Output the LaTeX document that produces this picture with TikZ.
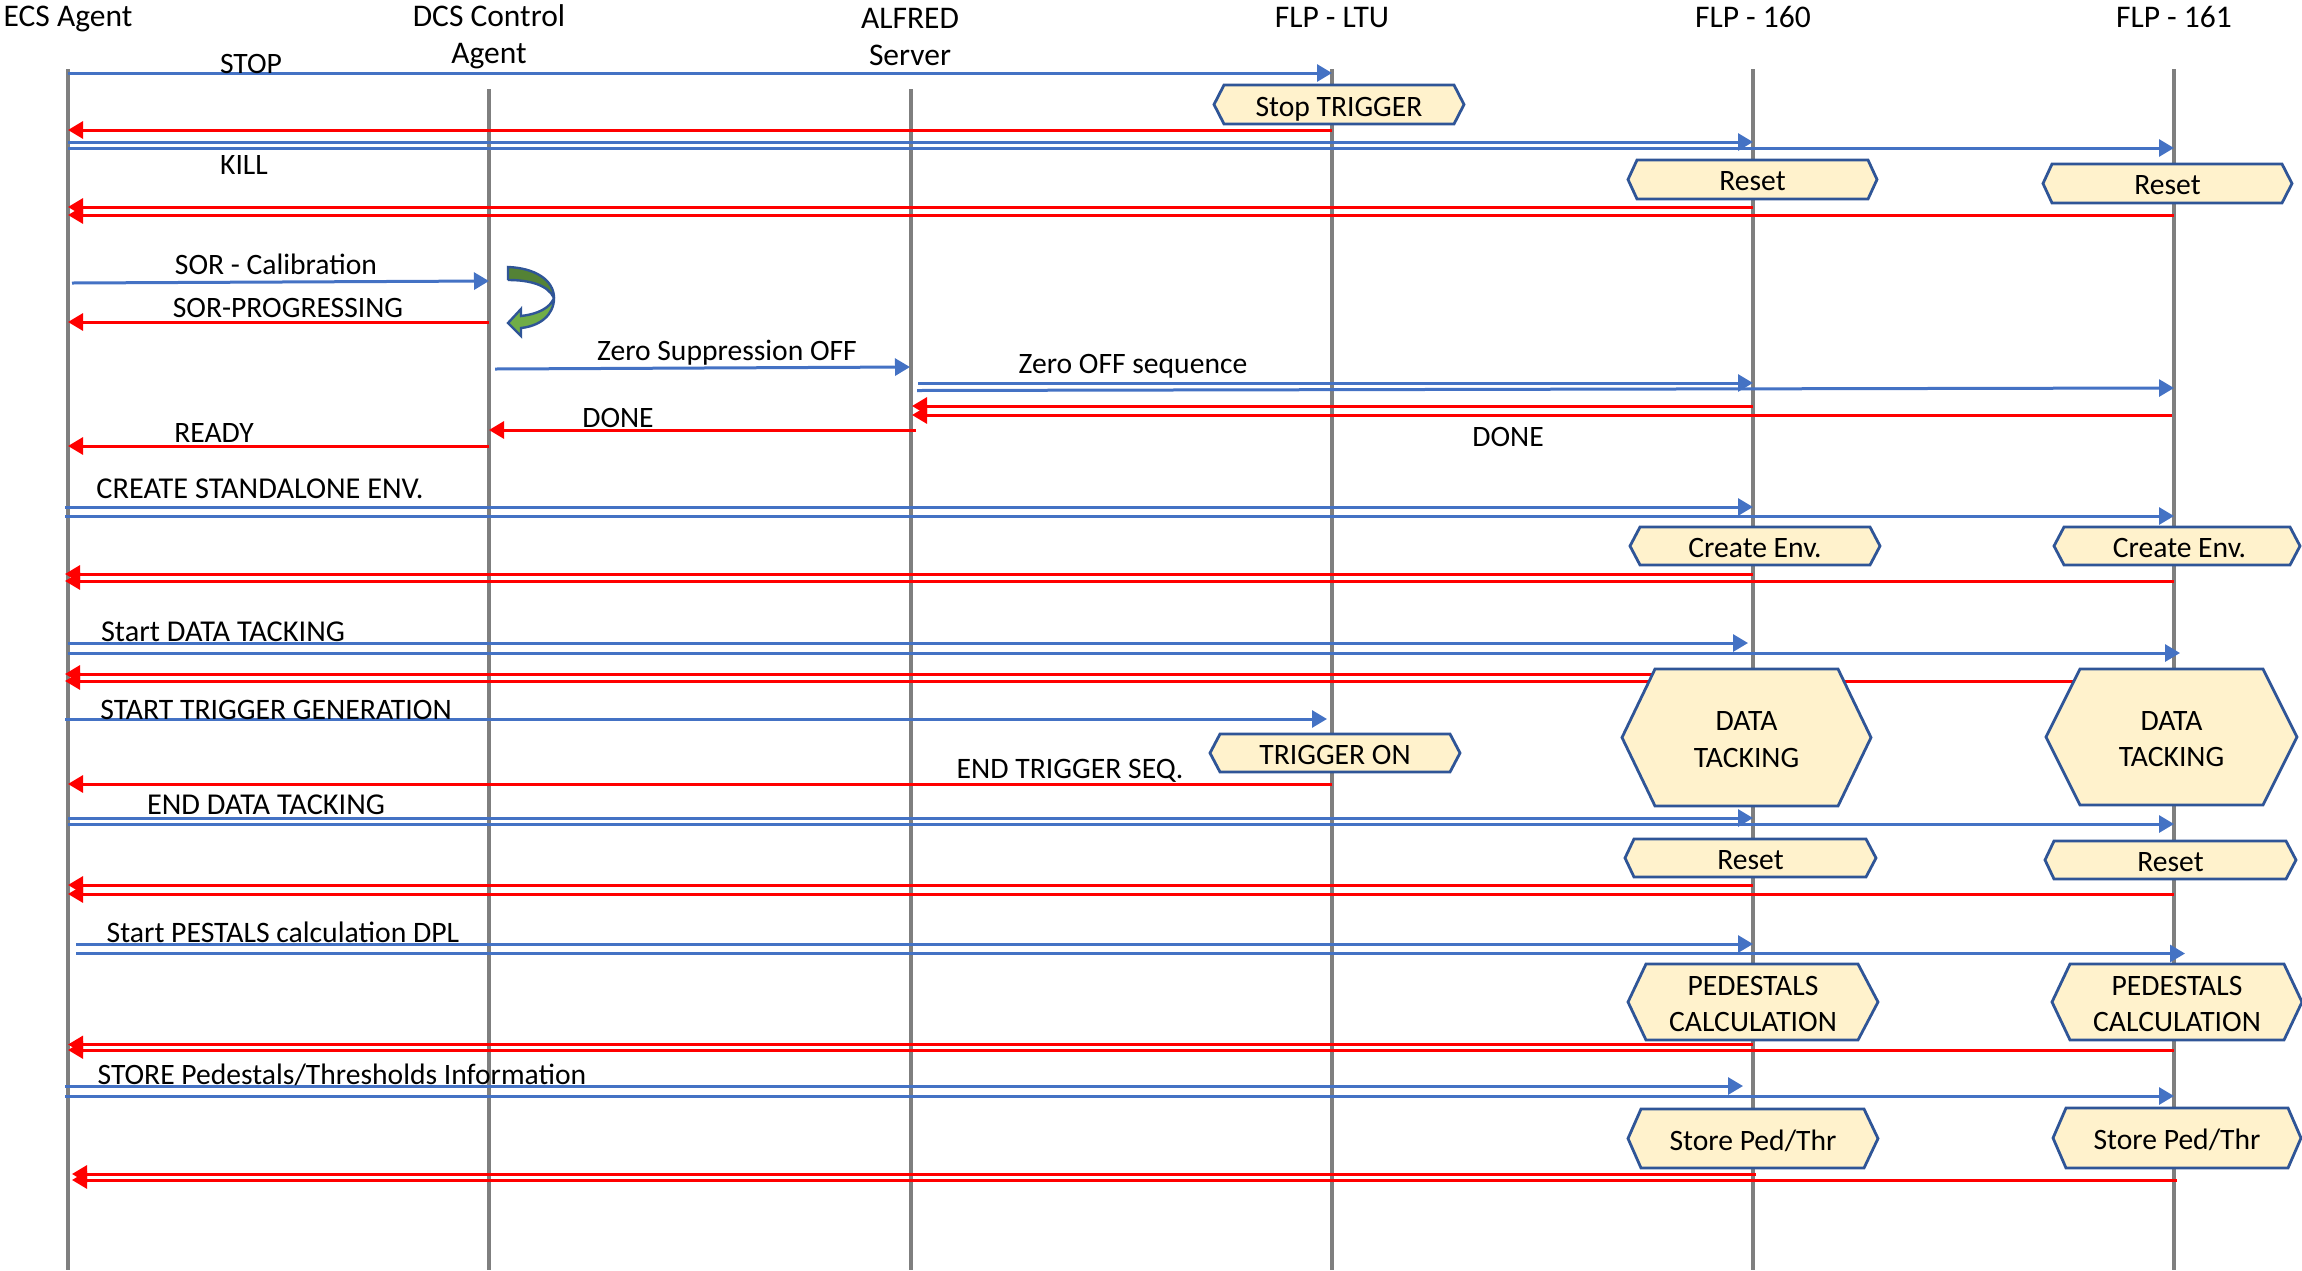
\documentclass[tikz,border=0pt]{standalone}
\usepackage{fontspec}
\setmainfont{Carlito}
\usetikzlibrary{arrows.meta}
\definecolor{msgblue}{HTML}{4472C4}
\definecolor{msgred}{HTML}{FF0000}
\definecolor{lifegray}{HTML}{7F7F7F}
\definecolor{hexfill}{HTML}{FFF2CC}
\definecolor{hexline}{HTML}{2F5597}
\definecolor{darkgreen}{HTML}{548235}
\definecolor{lightgreen}{HTML}{70AD47}
\tikzset{
  x=1pt,y=-1pt,
  txt/.style={font=\fontsize{29.6}{36.5}\selectfont,inner sep=0pt,align=center,yshift=-2pt},
  captxt/.style={txt,font=\fontsize{30.3}{37}\selectfont},
  longtxt/.style={txt,font=\fontsize{29.7}{37}\selectfont},
  headtxt/.style={txt,font=\fontsize{31.5}{37}\selectfont},
  lifeline/.style={draw=lifegray,line width=4pt},
  bluemsg/.style={draw=msgblue,line width=3pt,-{Triangle[length=15pt,width=17pt]}},
  redmsg/.style={draw=msgred,line width=3pt,-{Triangle[length=15pt,width=17pt]}},
  hexbox/.style={draw=hexline,fill=hexfill,line width=2.8pt,line join=miter},
}
\newcounter{msgno}
% \msg{style}{x1}{y1}{x2}{y2}
\newcommand{\msg}[5]{%
  \stepcounter{msgno}%
  \coordinate (m\themsgno a) at (#2,#3);
  \coordinate (m\themsgno b) at (#4,#5);
  \draw[#1] (m\themsgno a) -- (m\themsgno b);
}
% \life{name}{x}{top}
\newcommand{\life}[3]{%
  \coordinate (#1t) at (#2,#3);
  \coordinate (#1b) at (#2,1270);
  \draw[lifeline] (#1t) -- (#1b);
}
% \hexa{name}{x1}{x2}{y1}{y2}{inner1}{inner2}{text}
\newcommand{\hexa}[8]{%
  \path[hexbox] (#2,{(#4+#5)/2}) -- (#6,#4) -- (#7,#4) -- (#3,{(#4+#5)/2}) -- (#7,#5) -- (#6,#5) -- cycle;
  \node[txt] (#1) at ({(#2+#3)/2},{(#4+#5)/2}) {#8};
}
\begin{document}
\begin{tikzpicture}
\useasboundingbox (0,0) rectangle (2302,1270);
\life{ecs}{68}{69}
\life{dcs}{489}{89}
\life{alf}{910.5}{89}
\life{ltu}{1332}{69}
\life{fa}{1753}{69}
\life{fb}{2174}{69}

\msg{bluemsg}{68}{73}{1332}{73}
\msg{redmsg}{1332}{130}{68}{130}
\msg{bluemsg}{68}{142}{1753}{142}
\msg{bluemsg}{68}{148}{2174}{148}
\msg{redmsg}{1753}{207}{68}{207}
\msg{redmsg}{2174}{215}{68}{215}
\msg{bluemsg}{72}{283}{489}{281}
\msg{redmsg}{489}{322}{68}{322}
\msg{bluemsg}{495}{369}{910}{367}
\msg{bluemsg}{918}{383}{1753}{383}
\msg{bluemsg}{917}{390.5}{2174}{388}
\msg{redmsg}{1753}{406}{912}{406}
\msg{redmsg}{2172}{415}{912}{415}
\msg{redmsg}{916}{430}{489}{430}
\msg{redmsg}{489}{446}{68}{446}
\msg{bluemsg}{65}{507}{1753}{507}
\msg{bluemsg}{65}{516}{2174}{516}
\msg{redmsg}{1753}{574}{65}{574}
\msg{redmsg}{2174}{581}{65}{581}
\msg{bluemsg}{68}{643}{1748}{643}
\msg{bluemsg}{68}{653}{2180}{653}
\msg{redmsg}{1753}{674}{65}{674}
\msg{redmsg}{2174}{681}{65}{681}
\msg{bluemsg}{65}{719}{1327}{719}
\msg{redmsg}{1332}{784}{68}{784}
\msg{bluemsg}{68}{818}{1753}{818}
\msg{bluemsg}{68}{824}{2174}{824}
\msg{redmsg}{1753}{885}{68}{885}
\msg{redmsg}{2174}{894}{68}{894}
\msg{bluemsg}{76}{944}{1753}{944}
\msg{bluemsg}{76}{953.5}{2185}{953.5}
\msg{redmsg}{1753}{1044.5}{68}{1044.5}
\msg{redmsg}{2174}{1050}{68}{1050}
\msg{bluemsg}{65}{1086}{1743}{1086}
\msg{bluemsg}{65}{1096}{2174}{1096}
\msg{redmsg}{1756}{1174}{72}{1174}
\msg{redmsg}{2177}{1180}{72}{1180}

\hexa{h1}{1214}{1464}{85}{124}{1224}{1454}{\rule{0pt}{25pt}Stop TRIGGER}
\hexa{h2}{1628}{1877}{160}{199}{1637}{1868}{Reset}
\hexa{h3}{2043}{2292}{164}{203}{2052}{2282}{Reset}
\hexa{h4}{1630}{1880}{527}{565}{1640}{1870}{Create Env.}
\hexa{h5}{2054}{2300}{527}{565}{2064}{2290}{\hspace{5pt}Create Env.}
\hexa{h6}{1622}{1871}{669}{806}{1655}{1838}{DATA\\TACKING}
\hexa{h7}{2046}{2297}{669}{805}{2080}{2263}{DATA\\TACKING}
\hexa{h8}{1210}{1460}{734}{772}{1220}{1450}{TRIGGER ON}
\hexa{h9}{1625}{1876}{839}{877}{1634}{1866}{Reset}
\hexa{h10}{2045}{2296}{841}{879}{2054}{2286}{Reset}
\hexa{h11}{1628}{1878}{964}{1040}{1646}{1858}{PEDESTALS\\CALCULATION}
\hexa{h12}{2052}{2302}{964}{1040}{2070}{2284}{PEDESTALS\\CALCULATION}
\hexa{h13}{1628}{1878}{1109}{1168}{1641}{1864}{Store Ped/Thr}
\hexa{h14}{2053}{2301}{1108}{1168}{2066}{2288}{Store Ped/Thr}

% green curved arrow
\fill[darkgreen] (508,267) .. controls (535,268) and (554,280) .. (554,298) .. controls (548,285) and (530,280) .. (508,280) -- cycle;
\fill[lightgreen] (554,298) .. controls (554,315) and (540,326) .. (521,328) -- (521,336) -- (508,323) -- (521,309) -- (521,316) .. controls (538,314) and (550,308) .. (554,298) -- cycle;
\draw[hexline,line width=2.4pt,line join=miter] (508,280) -- (508,267) .. controls (535,268) and (554,280) .. (554,298) .. controls (554,315) and (540,326) .. (521,328) -- (521,336) -- (508,323) -- (521,309) -- (521,316) .. controls (538,314) and (550,308) .. (554,298) .. controls (548,285) and (530,280) .. (508,280);

\node[headtxt] (l1) at (68,17) {ECS Agent};
\node[headtxt] (l2) at (489,35) {DCS Control\\Agent};
\node[headtxt] (l3) at (910,34.5) {ALFRED\\Server};
\node[headtxt] (l4) at (1332,16) {FLP - LTU};
\node[headtxt] (l5) at (1753,15) {FLP - 160};
\node[headtxt] (l6) at (2174,15) {FLP - 161};
\node[txt] (t1) at (251,62) {STOP};
\node[txt] (t2) at (244,163) {KILL};
\node[txt] (t3) at (276,262.5) {SOR - Calibration};
\node[txt] (t4) at (288,306) {SOR-PROGRESSING};
\node[txt] (t5) at (727,351) {Zero Suppression OFF};
\node[txt] (t6) at (1133,364) {Zero OFF sequence};
\node[txt] (t7) at (618,415.5) {DONE};
\node[txt] (t8) at (214,430.5) {READY};
\node[txt] (t9) at (1508,434.5) {DONE};
\node[captxt] (t10) at (260,487) {CREATE STANDALONE ENV.};
\node[captxt] (t11) at (223,630) {Start DATA TACKING};
\node[longtxt] (t12) at (276,707.5) {START TRIGGER GENERATION};
\node[longtxt] (t13) at (1070,769) {END TRIGGER SEQ.};
\node[captxt] (t14) at (266,803) {END DATA TACKING};
\node[longtxt] (t15) at (283,930) {Start PESTALS calculation DPL};
\node[txt] (t16) at (342,1073) {STORE Pedestals/Thresholds Information};
\end{tikzpicture}
\end{document}
